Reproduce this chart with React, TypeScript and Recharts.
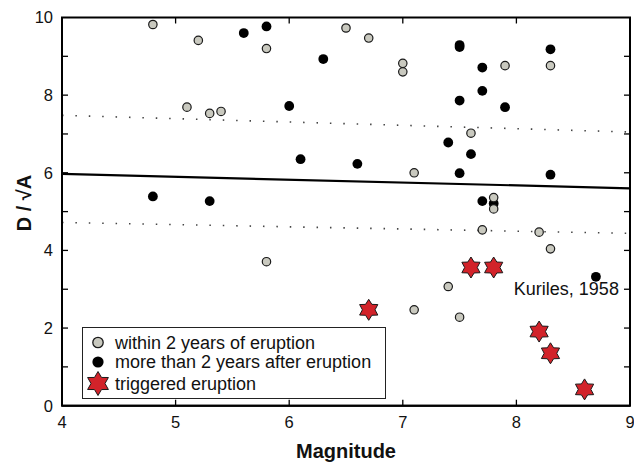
import React from 'react';
import {
  ScatterChart,
  Scatter,
  XAxis,
  YAxis,
  ReferenceLine,
  ReferenceArea,
  ReferenceDot,
  Label,
} from 'recharts';

// ---------- data ----------
const withinTwoYears = [
  { m: 4.8, d: 9.82 }, { m: 5.2, d: 9.41 }, { m: 5.8, d: 9.2 }, { m: 5.1, d: 7.69 },
  { m: 5.3, d: 7.53 }, { m: 5.4, d: 7.58 }, { m: 6.5, d: 9.73 }, { m: 6.7, d: 9.47 },
  { m: 7.0, d: 8.82 }, { m: 7.0, d: 8.6 }, { m: 7.9, d: 8.76 }, { m: 8.3, d: 8.76 },
  { m: 7.6, d: 7.02 }, { m: 7.1, d: 6.0 }, { m: 7.8, d: 5.36 }, { m: 7.8, d: 5.07 },
  { m: 7.7, d: 4.53 }, { m: 8.2, d: 4.47 }, { m: 5.8, d: 3.71 }, { m: 8.3, d: 4.04 },
  { m: 7.4, d: 3.07 }, { m: 7.1, d: 2.47 }, { m: 7.5, d: 2.28 },
];

const moreThanTwoYears = [
  { m: 5.6, d: 9.6 }, { m: 5.8, d: 9.77 }, { m: 6.3, d: 8.93 }, { m: 6.0, d: 7.72 },
  { m: 6.1, d: 6.35 }, { m: 4.8, d: 5.39 }, { m: 5.3, d: 5.27 }, { m: 7.5, d: 9.29 },
  { m: 7.5, d: 9.24 }, { m: 8.3, d: 9.18 }, { m: 7.7, d: 8.71 }, { m: 7.7, d: 8.11 },
  { m: 7.5, d: 7.86 }, { m: 7.9, d: 7.69 }, { m: 7.4, d: 6.78 }, { m: 7.6, d: 6.48 },
  { m: 6.6, d: 6.23 }, { m: 7.5, d: 5.99 }, { m: 8.3, d: 5.95 }, { m: 7.7, d: 5.27 },
  { m: 7.8, d: 5.21 }, { m: 8.7, d: 3.32 },
];

const triggered = [
  { m: 7.6, d: 3.56 }, { m: 7.8, d: 3.56 }, { m: 6.7, d: 2.47 },
  { m: 8.2, d: 1.91 }, { m: 8.3, d: 1.35 }, { m: 8.6, d: 0.42 },
];

const fitLine = [{ x: 4, y: 5.97 }, { x: 9, y: 5.6 }];
const upperBound = [{ x: 4, y: 7.48 }, { x: 9, y: 7.05 }];
const lowerBound = [{ x: 4, y: 4.72 }, { x: 9, y: 4.44 }];

const annotation = { m: 8.7, d: 3.32, text: 'Kuriles, 1958' };

const X_DOMAIN = [4, 9];
const Y_DOMAIN = [0, 10];
const xTicks = [4, 5, 6, 7, 8, 9];
const yTicks = [0, 2, 4, 6, 8, 10];
const xInnerTicks = [5, 6, 7, 8];
const yInnerTicks = [1, 2, 3, 4, 5, 6, 7, 8, 9];

const bottomTickPts = xInnerTicks.map((t) => ({ m: t, d: Y_DOMAIN[0] }));
const topTickPts = xInnerTicks.map((t) => ({ m: t, d: Y_DOMAIN[1] }));
const leftTickPts = yInnerTicks.map((t) => ({ m: X_DOMAIN[0], d: t }));
const rightTickPts = yInnerTicks.map((t) => ({ m: X_DOMAIN[1], d: t }));

const legendEntries = [
  { label: 'within 2 years of eruption', kind: 'gray' },
  { label: 'more than 2 years after eruption', kind: 'black' },
  { label: 'triggered eruption', kind: 'star' },
];

// ---------- layout & styles (all stable, module-level) ----------
const W = 634;
const H = 463;
const MARGIN = { top: 17.5, right: 4, bottom: 27.3, left: 2 };
const Y_AXIS_W = 60;
const X_AXIS_H = 30;
const TICK_LEN = 6;

const FONT = '"Liberation Sans", Arial, Helvetica, sans-serif';
const GRAY_FILL = '#c9c9bf';
const STAR_FILL = '#d2232a';
const OUTLINE = '#1a1a1a';

const AXIS_LINE = { stroke: '#000', strokeWidth: 2 };
const TICK_STYLE = { fontSize: 16.5, fill: '#111', fontFamily: FONT };

const starPoints = (cx: number, cy: number, R: number, r: number) => {
  const pts: string[] = [];
  for (let i = 0; i < 12; i++) {
    const a = -Math.PI / 2 + (i * Math.PI) / 6;
    const rad = i % 2 === 0 ? R : r;
    pts.push(`${cx + rad * Math.cos(a)},${cy + rad * Math.sin(a)}`);
  }
  return pts.join(' ');
};

const GrayDot = (p: any) => (
  <circle cx={p.cx} cy={p.cy} r={4.2} fill={GRAY_FILL} stroke={OUTLINE} strokeWidth={1.2} />
);
const BlackDot = (p: any) => <circle cx={p.cx} cy={p.cy} r={4.9} fill="#000" />;
const Star = (p: any) => (
  <polygon points={starPoints(p.cx, p.cy, 10.5, 6.3)} fill={STAR_FILL} stroke={OUTLINE} strokeWidth={1} />
);

const upTick = (p: any) => (
  <path d={`M${p.cx},${p.cy}V${p.cy - TICK_LEN}`} stroke="#000" strokeWidth={1.3} fill="none" />
);
const downTick = (p: any) => (
  <path d={`M${p.cx},${p.cy}V${p.cy + TICK_LEN}`} stroke="#000" strokeWidth={1.3} fill="none" />
);
const rightTick = (p: any) => (
  <path d={`M${p.cx},${p.cy}H${p.cx + TICK_LEN}`} stroke="#000" strokeWidth={1.3} fill="none" />
);
const leftTick = (p: any) => (
  <path d={`M${p.cx},${p.cy}H${p.cx - TICK_LEN}`} stroke="#000" strokeWidth={1.3} fill="none" />
);

const XTitle = (p: any) => {
  const vb = p.viewBox || {};
  return (
    <text
      x={vb.x + vb.width / 2}
      y={vb.y + vb.height + 22.3}
      textAnchor="middle"
      fontSize={20}
      fontWeight="bold"
      fontFamily={FONT}
      fill="#111"
    >
      Magnitude
    </text>
  );
};

const YTitle = (p: any) => {
  const vb = p.viewBox || {};
  return (
    <text
      x={0}
      y={0}
      transform={`translate(${vb.x + 28.5},${vb.y + vb.height / 2 - 8.6}) rotate(-90)`}
      textAnchor="middle"
      fontSize={20}
      fontWeight="bold"
      fontFamily={FONT}
      fill="#111"
    >
      D / √A
    </text>
  );
};

const AnnotationText = (p: any) => {
  const vb = p.viewBox || {};
  const cx = vb.x + (vb.width || 0) / 2;
  const cy = vb.y + (vb.height || 0) / 2;
  return (
    <text x={cx + 23} y={cy + 18.5} textAnchor="end" fontSize={18} fontFamily={FONT} fill="#111">
      {annotation.text}
    </text>
  );
};
const ANNOTATION_LABEL = { content: AnnotationText };

const LegendBox = () => (
  <div
    style={{
      position: 'absolute',
      left: 82,
      top: 327,
      width: 304,
      height: 72,
      border: '1.3px solid #222',
      background: '#fff',
      boxSizing: 'border-box',
    }}
  >
    <svg width={302} height={70} style={{ display: 'block' }}>
      {legendEntries.map((e, i) => {
        const cy = [14.5, 34, 55.5][i];
        const cx = 15;
        let sym;
        if (e.kind === 'gray')
          sym = <circle cx={cx} cy={cy} r={5.2} fill={GRAY_FILL} stroke={OUTLINE} strokeWidth={1.3} />;
        else if (e.kind === 'black') sym = <circle cx={cx} cy={cy} r={5.6} fill="#000" />;
        else
          sym = (
            <polygon points={starPoints(cx, cy, 12, 7)} fill={STAR_FILL} stroke={OUTLINE} strokeWidth={1} />
          );
        return (
          <g key={e.label}>
            {sym}
            <text x={32} y={cy + 6.3} fontSize={18} fontFamily={FONT} fill="#111">
              {e.label}
            </text>
          </g>
        );
      })}
    </svg>
  </div>
);

export default function App() {
  return (
    <div style={{ position: 'absolute', left: 0, top: 0, width: W, height: H, background: '#fff' }}>
      <ScatterChart width={W} height={H} margin={MARGIN}>
        <XAxis
          xAxisId="b"
          dataKey="m"
          type="number"
          domain={X_DOMAIN}
          ticks={xTicks}
          interval={0}
          tickLine={false}
          tickSize={6}
          tickMargin={5}
          height={X_AXIS_H}
          axisLine={AXIS_LINE}
          tick={TICK_STYLE}
        >
          <Label content={XTitle} />
        </XAxis>
        <YAxis
          yAxisId="l"
          dataKey="d"
          type="number"
          domain={Y_DOMAIN}
          ticks={yTicks}
          interval={0}
          tickLine={false}
          tickSize={6}
          tickMargin={3}
          width={Y_AXIS_W}
          axisLine={AXIS_LINE}
          tick={TICK_STYLE}
        >
          <Label content={YTitle} />
        </YAxis>

        {/* plot frame */}
        <ReferenceArea
          xAxisId="b"
          yAxisId="l"
          x1={4}
          x2={9}
          y1={0}
          y2={10}
          fill="none"
          stroke="#000"
          strokeWidth={2}
          ifOverflow="visible"
        />

        {/* inward tick marks */}
        <Scatter data={bottomTickPts} xAxisId="b" yAxisId="l" shape={upTick} isAnimationActive={false} legendType="none" />
        <Scatter data={topTickPts} xAxisId="b" yAxisId="l" shape={downTick} isAnimationActive={false} legendType="none" />
        <Scatter data={leftTickPts} xAxisId="b" yAxisId="l" shape={rightTick} isAnimationActive={false} legendType="none" />
        <Scatter data={rightTickPts} xAxisId="b" yAxisId="l" shape={leftTick} isAnimationActive={false} legendType="none" />

        {/* regression line and bounds */}
        <ReferenceLine
          xAxisId="b"
          yAxisId="l"
          segment={upperBound}
          stroke="#444"
          strokeWidth={1.6}
          strokeDasharray="1.5 11.9"
        />
        <ReferenceLine
          xAxisId="b"
          yAxisId="l"
          segment={lowerBound}
          stroke="#444"
          strokeWidth={1.6}
          strokeDasharray="1.5 11.9"
        />
        <ReferenceLine xAxisId="b" yAxisId="l" segment={fitLine} stroke="#000" strokeWidth={2.2} />

        <Scatter
          name="more than 2 years after eruption"
          data={moreThanTwoYears}
          xAxisId="b"
          yAxisId="l"
          shape={BlackDot}
          isAnimationActive={false}
        />
        <Scatter
          name="within 2 years of eruption"
          data={withinTwoYears}
          xAxisId="b"
          yAxisId="l"
          shape={GrayDot}
          isAnimationActive={false}
        />
        <Scatter
          name="triggered eruption"
          data={triggered}
          xAxisId="b"
          yAxisId="l"
          shape={Star}
          isAnimationActive={false}
        />

        <ReferenceDot
          xAxisId="b"
          yAxisId="l"
          x={annotation.m}
          y={annotation.d}
          r={0}
          fill="none"
          stroke="none"
          label={ANNOTATION_LABEL}
        />
      </ScatterChart>
      <LegendBox />
    </div>
  );
}
